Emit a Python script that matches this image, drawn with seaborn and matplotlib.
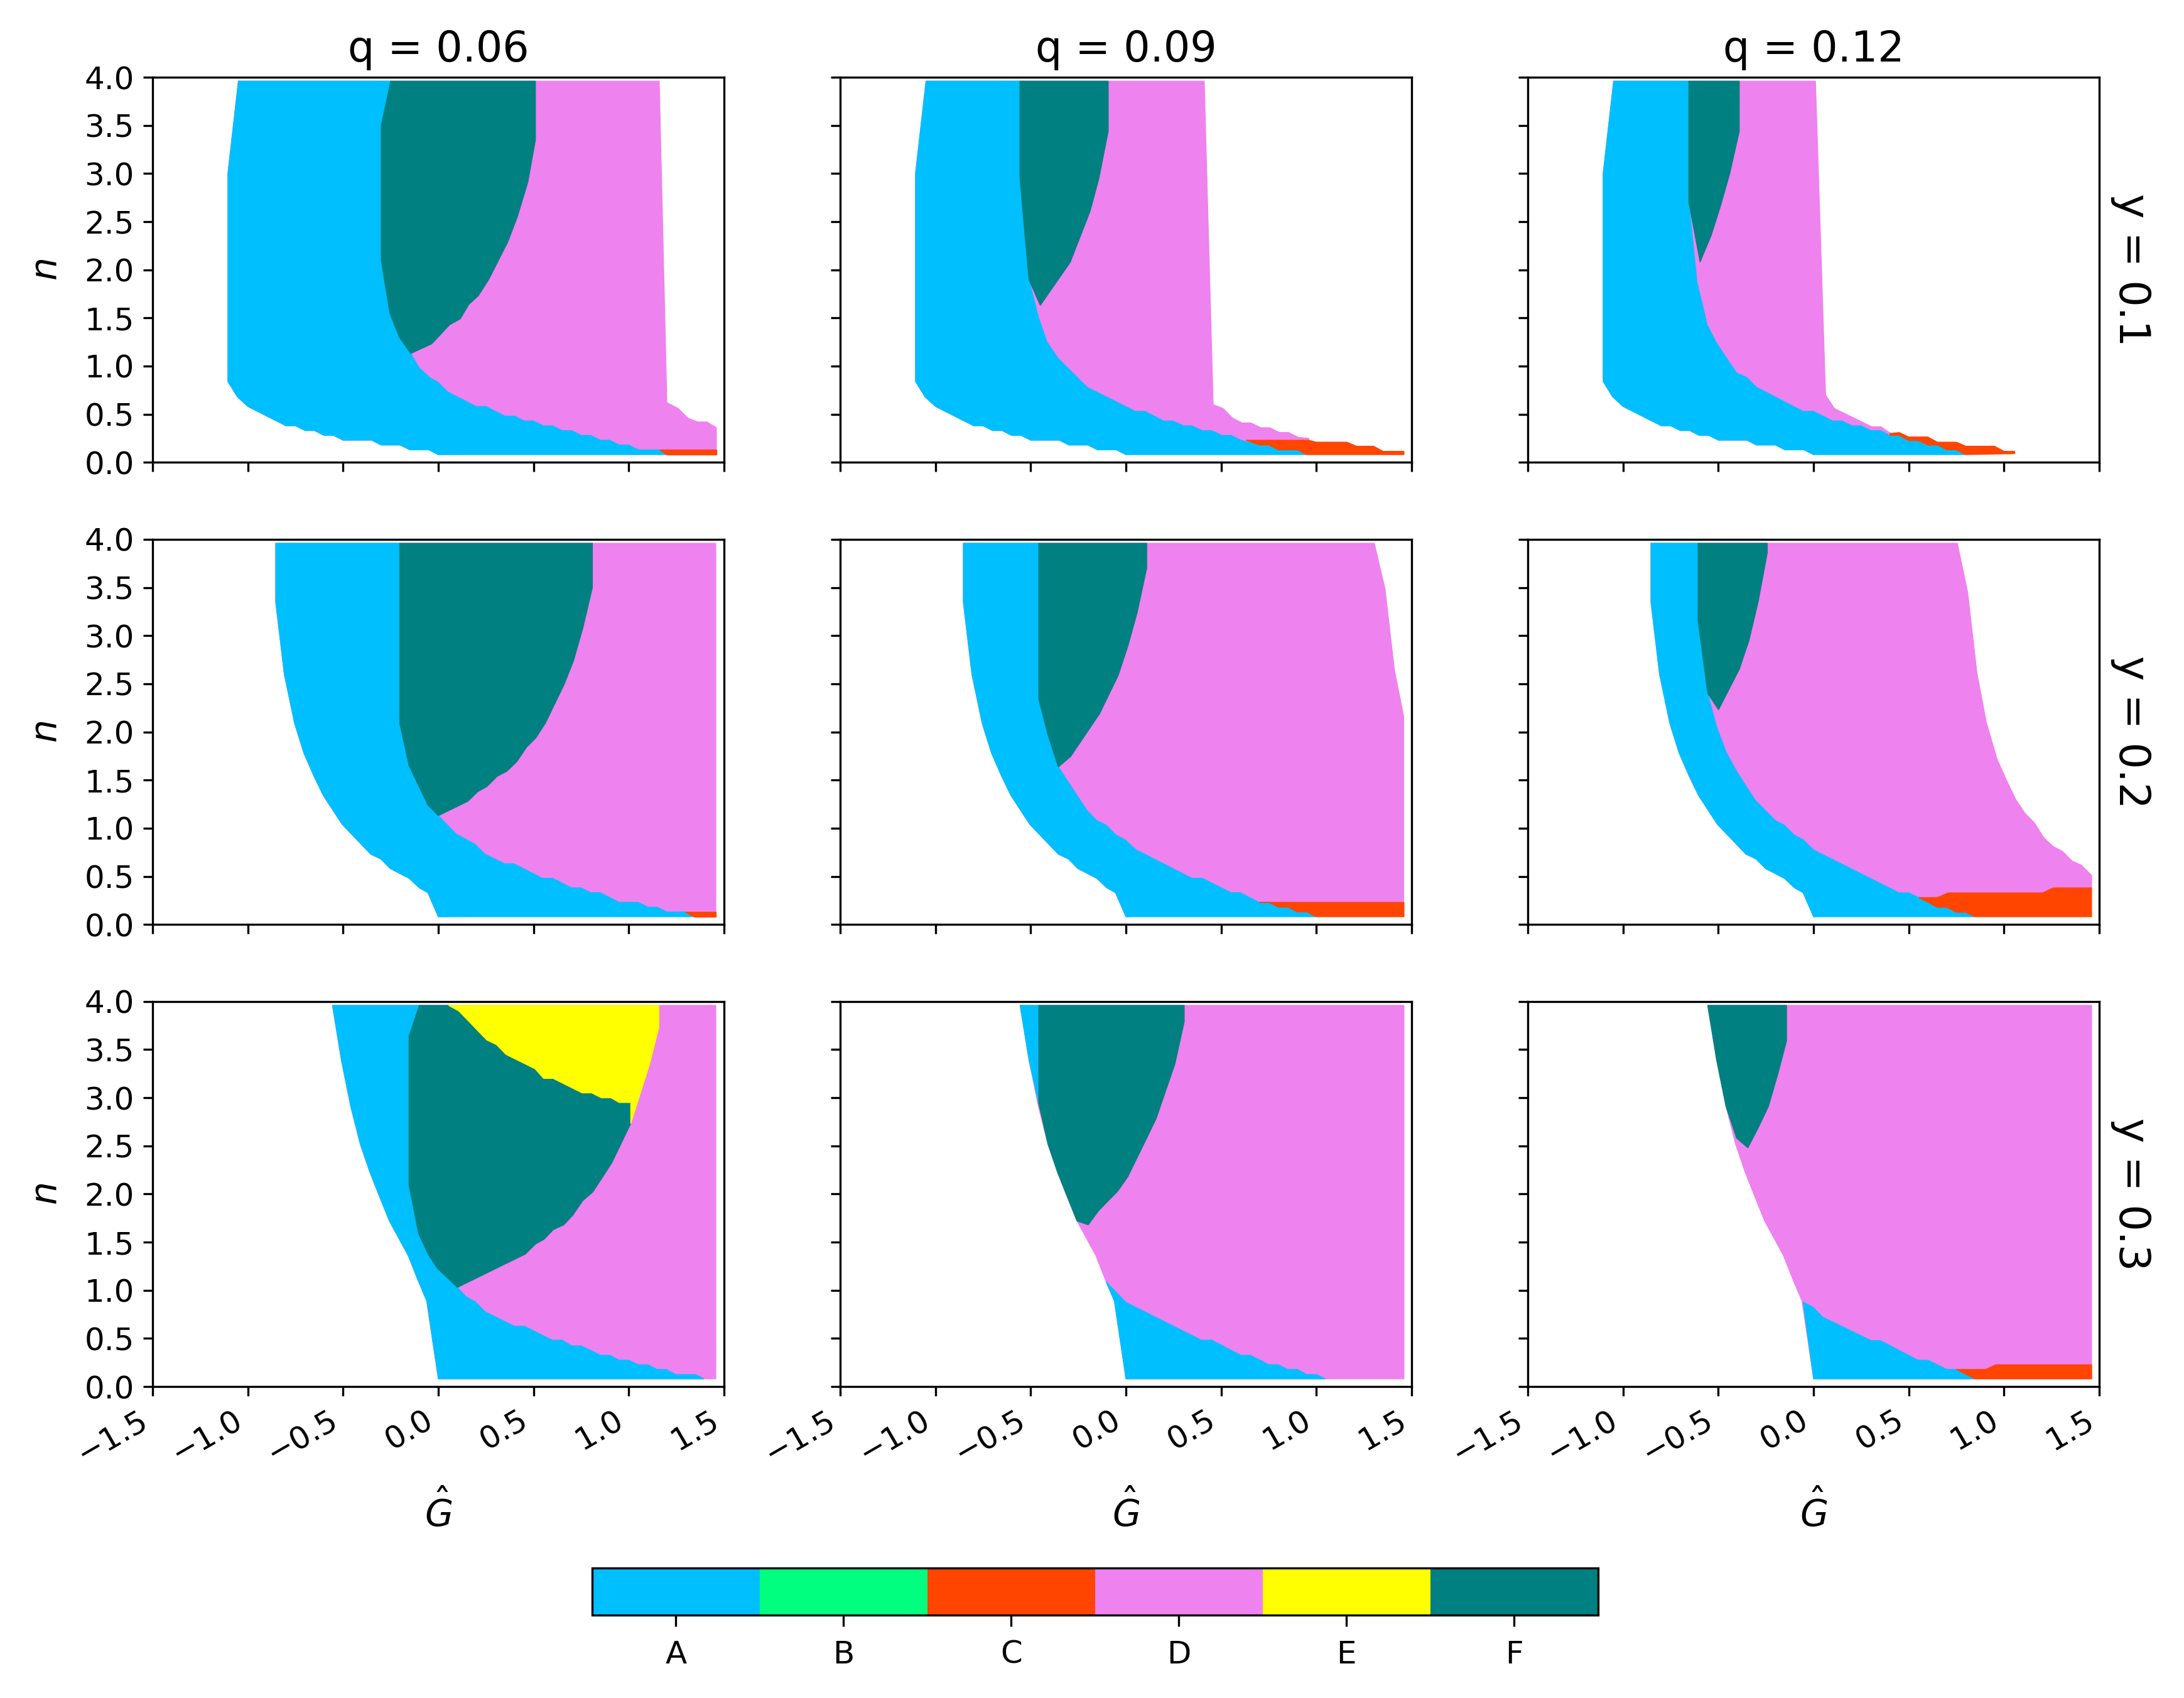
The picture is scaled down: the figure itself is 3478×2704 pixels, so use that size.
import numpy as np
import pandas as pd
import matplotlib
matplotlib.use('Agg')
import matplotlib.pyplot as plt
from matplotlib.colors import ListedColormap, BoundaryNorm
from matplotlib.cm import ScalarMappable
import seaborn as sns

# Regions and their colours (colorbar order)
regions = ['A', 'B', 'C', 'D', 'E', 'F']
region_colors = ['#00bfff', '#00ff7f', '#ff4500', '#ee82ee', '#ffff00', '#008080']
q_values = ['0.06', '0.09', '0.12']
y_values = ['0.1', '0.2', '0.3']

# Boundaries, as (G_hat, n) points.
# Left edge of the coloured area, one per row (top -> bottom)
edge_y1 = [(-1.05, 3.96), (-1.105, 3.0), (-1.105, 0.84), (-1.055, 0.68), (-1.0, 0.58),
           (-0.80, 0.38), (-0.75, 0.38), (-0.70, 0.33), (-0.65, 0.33), (-0.60, 0.28),
           (-0.55, 0.28), (-0.50, 0.23), (-0.35, 0.23), (-0.30, 0.18), (-0.20, 0.18),
           (-0.15, 0.13), (-0.05, 0.13), (0.0, 0.08)]
edge_y2 = [(-0.854, 3.96), (-0.854, 3.35), (-0.809, 2.60), (-0.755, 2.09), (-0.706, 1.78),
           (-0.653, 1.54), (-0.604, 1.34), (-0.505, 1.04), (-0.355, 0.73), (-0.302, 0.68),
           (-0.252, 0.58), (-0.154, 0.48), (-0.10, 0.38), (-0.055, 0.33), (0.0, 0.08)]
edge_y3 = [(-0.556, 3.96), (-0.509, 3.39), (-0.46, 2.91), (-0.41, 2.52), (-0.36, 2.23),
           (-0.31, 1.98), (-0.257, 1.72), (-0.158, 1.36), (-0.108, 1.11), (-0.061, 0.89),
           (0.0, 0.08)]

# y = 0.1, q = 0.06
y1q06_af = [(-0.25, 3.96), (-0.30, 3.50), (-0.30, 2.10), (-0.255, 1.55), (-0.205, 1.30), (-0.145, 1.13)]
y1q06_fd = [(0.51, 3.96), (0.51, 3.35), (0.47, 2.91), (0.415, 2.55), (0.365, 2.29), (0.265, 1.90),
            (0.21, 1.73), (0.16, 1.64), (0.115, 1.49), (0.06, 1.43), (-0.035, 1.23), (-0.145, 1.13)]
y1q06_ad = [(-0.145, 1.13), (-0.10, 0.98), (-0.045, 0.88), (0.0, 0.83), (0.05, 0.73), (0.20, 0.58),
            (0.25, 0.58), (0.35, 0.48), (0.40, 0.48), (0.45, 0.43), (0.50, 0.43), (0.55, 0.38),
            (0.60, 0.38), (0.65, 0.33), (0.70, 0.33), (0.75, 0.28), (0.80, 0.28), (0.85, 0.23),
            (0.90, 0.23), (0.95, 0.18), (1.00, 0.18), (1.05, 0.13), (1.16, 0.13), (1.20, 0.08)]
y1q06_dr = [(1.16, 3.96), (1.20, 0.62), (1.26, 0.56), (1.31, 0.46), (1.36, 0.42), (1.41, 0.42),
            (1.46, 0.36), (1.46, 0.13)]
y1q06_c = [(1.16, 0.13), (1.46, 0.13), (1.46, 0.08), (1.20, 0.08)]

# y = 0.1, q = 0.09
y1q09_af = [(-0.557, 3.96), (-0.557, 2.96), (-0.51, 1.90)]
y1q09_fd = [(-0.093, 3.96), (-0.093, 3.44), (-0.142, 2.95), (-0.188, 2.61), (-0.292, 2.08), (-0.45, 1.63)]
y1q09_ad = [(-0.51, 1.90), (-0.46, 1.51), (-0.415, 1.25), (-0.356, 1.08), (-0.204, 0.78), (0.05, 0.53),
            (0.10, 0.53), (0.198, 0.43), (0.247, 0.43), (0.302, 0.38), (0.346, 0.38), (0.40, 0.33),
            (0.45, 0.33), (0.504, 0.28), (0.553, 0.28), (0.603, 0.23), (0.70, 0.18), (0.75, 0.18),
            (0.80, 0.13), (0.90, 0.13), (0.95, 0.08)]
y1q09_dr = [(0.411, 3.96), (0.458, 0.60), (0.51, 0.56), (0.56, 0.46), (0.609, 0.41), (0.656, 0.41),
            (0.708, 0.36), (0.755, 0.36), (0.806, 0.31), (0.854, 0.31), (0.905, 0.26), (0.96, 0.25),
            (0.96, 0.23)]
y1q09_c = [(0.63, 0.23), (0.96, 0.23), (1.00, 0.21), (1.16, 0.21), (1.21, 0.168), (1.30, 0.168),
           (1.35, 0.115), (1.46, 0.115), (1.46, 0.08), (0.95, 0.08), (0.90, 0.13), (0.80, 0.13),
           (0.75, 0.18), (0.70, 0.18)]

# y = 0.1, q = 0.12
y1q12_af = [(-0.655, 3.96), (-0.655, 2.70)]
y1q12_fd = [(-0.39, 3.96), (-0.39, 3.44), (-0.44, 3.0), (-0.489, 2.66), (-0.537, 2.36), (-0.596, 2.08)]
y1q12_ad = [(-0.655, 2.70), (-0.612, 1.87), (-0.559, 1.43), (-0.51, 1.24), (-0.405, 0.93), (-0.35, 0.88),
            (-0.30, 0.78), (-0.055, 0.53), (0.0, 0.53), (0.10, 0.43), (0.15, 0.43), (0.20, 0.38),
            (0.25, 0.38), (0.30, 0.33), (0.35, 0.33), (0.40, 0.28), (0.45, 0.28), (0.50, 0.225),
            (0.55, 0.225), (0.60, 0.18), (0.65, 0.18), (0.70, 0.13), (0.75, 0.13), (0.80, 0.08)]
y1q12_dr = [(0.01, 3.96), (0.063, 0.70), (0.109, 0.56), (0.306, 0.37), (0.354, 0.37), (0.405, 0.30)]
y1q12_c = [(0.40, 0.30), (0.45, 0.31), (0.50, 0.264), (0.60, 0.264), (0.65, 0.21), (0.75, 0.21),
           (0.80, 0.168), (0.95, 0.168), (1.00, 0.115), (1.056, 0.115), (1.056, 0.09), (0.80, 0.08),
           (0.75, 0.13), (0.70, 0.13), (0.65, 0.18), (0.60, 0.18), (0.55, 0.225), (0.50, 0.225),
           (0.45, 0.28), (0.40, 0.28)]

# y = 0.2, q = 0.06
y2q06_af = [(-0.203, 3.96), (-0.203, 2.09), (-0.154, 1.65), (-0.055, 1.24), (0.0, 1.13)]
y2q06_fd = [(0.809, 3.96), (0.809, 3.50), (0.759, 3.08), (0.71, 2.74), (0.66, 2.49), (0.562, 2.09),
            (0.513, 1.94), (0.463, 1.84), (0.412, 1.69), (0.359, 1.59), (0.31, 1.54), (0.254, 1.43),
            (0.207, 1.38), (0.156, 1.28), (0.0, 1.13)]
y2q06_ad = [(0.0, 1.13), (0.093, 0.94), (0.191, 0.835), (0.245, 0.73), (0.349, 0.63), (0.398, 0.63),
            (0.546, 0.48), (0.60, 0.48), (0.70, 0.38), (0.75, 0.38), (0.80, 0.33), (0.85, 0.33),
            (0.95, 0.23), (1.05, 0.23), (1.10, 0.18), (1.15, 0.18), (1.20, 0.13), (1.30, 0.13),
            (1.345, 0.08)]
y2q06_dr = [(1.457, 3.96), (1.457, 0.13)]
y2q06_c = [(1.296, 0.13), (1.457, 0.13), (1.457, 0.08), (1.345, 0.08)]

# y = 0.2, q = 0.09
y2q09_af = [(-0.458, 3.96), (-0.458, 2.34), (-0.41, 1.97), (-0.356, 1.64)]
y2q09_fd = [(0.109, 3.96), (0.109, 3.70), (0.059, 3.24), (0.01, 2.89), (-0.04, 2.59), (-0.138, 2.19),
            (-0.29, 1.745), (-0.352, 1.64)]
y2q09_ad = [(-0.356, 1.64), (-0.207, 1.19), (-0.154, 1.08), (-0.103, 1.03), (-0.053, 0.93),
            (-0.004, 0.88), (0.049, 0.78), (0.346, 0.48), (0.40, 0.48), (0.553, 0.33), (0.60, 0.33),
            (0.70, 0.23), (0.75, 0.23), (0.80, 0.18), (0.85, 0.18), (0.90, 0.13), (0.95, 0.13),
            (1.0, 0.08)]
y2q09_dr = [(1.304, 3.96), (1.36, 3.49), (1.41, 2.64), (1.458, 2.165), (1.458, 0.23)]
y2q09_c = [(0.70, 0.23), (1.46, 0.23), (1.46, 0.08), (1.0, 0.08), (0.95, 0.13), (0.90, 0.13),
           (0.85, 0.18), (0.80, 0.18), (0.75, 0.23)]

# y = 0.2, q = 0.12
y2q12_af = [(-0.607, 3.96), (-0.607, 3.16), (-0.556, 2.40)]
y2q12_fd = [(-0.243, 3.96), (-0.243, 3.86), (-0.29, 3.36), (-0.339, 2.95), (-0.39, 2.65), (-0.499, 2.23)]
y2q12_ad = [(-0.556, 2.40), (-0.509, 2.05), (-0.458, 1.785), (-0.404, 1.59), (-0.306, 1.29),
            (-0.201, 1.08), (-0.152, 1.03), (-0.103, 0.93), (-0.055, 0.88), (0.0, 0.774),
            (0.45, 0.328), (0.499, 0.328), (0.552, 0.28), (0.651, 0.178), (0.70, 0.178),
            (0.75, 0.126), (0.80, 0.126), (0.848, 0.08)]
y2q12_dr = [(0.755, 3.96), (0.809, 3.45), (0.858, 2.61), (0.907, 2.10), (0.963, 1.72), (1.01, 1.51),
            (1.061, 1.30), (1.11, 1.155), (1.16, 1.055), (1.207, 0.905), (1.258, 0.81),
            (1.307, 0.76), (1.357, 0.66), (1.406, 0.617), (1.46, 0.51), (1.46, 0.38)]
y2q12_c = [(0.552, 0.28), (0.651, 0.28), (0.706, 0.328), (1.203, 0.328), (1.258, 0.38), (1.46, 0.38),
           (1.46, 0.08), (0.848, 0.08), (0.80, 0.126), (0.75, 0.126), (0.70, 0.178), (0.651, 0.178)]

# y = 0.3, q = 0.06
y3q06_af = [(-0.10, 3.96), (-0.154, 3.64), (-0.154, 2.09), (-0.104, 1.59), (-0.055, 1.38),
            (-0.006, 1.23), (0.10, 1.03)]
y3q06_fe = [(0.053, 3.96), (0.108, 3.90), (0.254, 3.60), (0.306, 3.55), (0.355, 3.45), (0.508, 3.30),
            (0.553, 3.20), (0.603, 3.20), (0.755, 3.05), (0.805, 3.05), (0.855, 3.0), (0.905, 3.0),
            (0.95, 2.95), (1.01, 2.95), (1.01, 2.73)]
y3q06_fd = [(1.01, 2.73), (0.91, 2.32), (0.811, 2.02), (0.758, 1.93), (0.706, 1.78), (0.659, 1.68),
            (0.604, 1.63), (0.555, 1.53), (0.51, 1.48), (0.457, 1.376), (0.10, 1.03)]
y3q06_ed = [(1.158, 3.96), (1.158, 3.73), (1.108, 3.34), (1.01, 2.73)]
y3q06_ad = [(0.10, 1.03), (0.148, 0.93), (0.195, 0.88), (0.247, 0.775), (0.40, 0.627), (0.452, 0.627),
            (0.597, 0.483), (0.65, 0.483), (0.70, 0.423), (0.75, 0.423), (0.852, 0.326), (0.90, 0.326),
            (0.95, 0.274), (1.0, 0.274), (1.05, 0.227), (1.10, 0.227), (1.148, 0.178), (1.197, 0.178),
            (1.247, 0.125), (1.35, 0.125), (1.395, 0.08)]
y3q06_dr = [(1.457, 3.96), (1.457, 0.08)]

# y = 0.3, q = 0.09
y3q09_top = [(-0.458, 3.96), (-0.458, 2.94)]
y3q09_fl = [(-0.458, 3.96), (-0.458, 2.94), (-0.41, 2.52), (-0.36, 2.23), (-0.31, 1.98), (-0.257, 1.72)]
y3q09_fd = [(0.306, 3.96), (0.306, 3.79), (0.257, 3.35), (0.158, 2.78), (0.01, 2.18), (-0.043, 2.03),
            (-0.142, 1.83), (-0.198, 1.68), (-0.257, 1.72)]
y3q09_ad = [(-0.105, 1.09), (0.0, 0.875), (0.395, 0.483), (0.45, 0.483), (0.603, 0.326), (0.652, 0.326),
            (0.751, 0.227), (0.80, 0.227), (0.85, 0.178), (0.90, 0.178), (0.949, 0.125), (1.002, 0.125),
            (1.047, 0.08)]
y3q09_dr = [(1.46, 3.96), (1.46, 0.08)]

# y = 0.3, q = 0.12
y3q12_fl = [(-0.556, 3.96), (-0.509, 3.39), (-0.46, 2.91), (-0.404, 2.58)]
y3q12_fd = [(-0.142, 3.96), (-0.142, 3.59), (-0.187, 3.25), (-0.237, 2.91), (-0.29, 2.69),
            (-0.345, 2.48), (-0.404, 2.58)]
y3q12_ad = [(-0.055, 0.88), (0.0, 0.82), (0.049, 0.72), (0.302, 0.478), (0.351, 0.478), (0.548, 0.274),
            (0.60, 0.274), (0.70, 0.178), (0.75, 0.178), (0.848, 0.08)]
y3q12_dr = [(1.46, 3.96), (1.46, 0.08)]
y3q12_c = [(0.75, 0.178), (0.903, 0.178), (0.957, 0.227), (1.46, 0.227), (1.46, 0.08), (0.848, 0.08)]


def rev(pts):
    return list(pts)[::-1]


def a_poly(edge, right):
    # part of the row's left edge between the ends of `right`, closed by `right`
    hi, lo = right[0][1], right[-1][1]
    return [p for p in edge if lo <= p[1] <= hi] + rev(right)


# Pieces in drawing order (later pieces are painted on top)
panels = {
    ('0.1', '0.06'): [('D', edge_y1 + rev(y1q06_dr)), ('A', a_poly(edge_y1, y1q06_af + y1q06_ad)),
                      ('F', y1q06_af + rev(y1q06_fd)), ('C', y1q06_c)],
    ('0.1', '0.09'): [('D', edge_y1 + rev(y1q09_dr)), ('A', a_poly(edge_y1, y1q09_af + y1q09_ad)),
                      ('F', y1q09_af + rev(y1q09_fd)), ('C', y1q09_c)],
    ('0.1', '0.12'): [('D', edge_y1 + rev(y1q12_dr)), ('A', a_poly(edge_y1, y1q12_af + y1q12_ad)),
                      ('F', y1q12_af + rev(y1q12_fd)), ('C', y1q12_c)],
    ('0.2', '0.06'): [('D', edge_y2 + rev(y2q06_dr)), ('A', a_poly(edge_y2, y2q06_af + y2q06_ad)),
                      ('F', y2q06_af + rev(y2q06_fd)), ('C', y2q06_c)],
    ('0.2', '0.09'): [('D', edge_y2 + rev(y2q09_dr)), ('A', a_poly(edge_y2, y2q09_af + y2q09_ad)),
                      ('F', y2q09_af + rev(y2q09_fd)), ('C', y2q09_c)],
    ('0.2', '0.12'): [('D', edge_y2 + rev(y2q12_dr)), ('A', a_poly(edge_y2, y2q12_af + y2q12_ad)),
                      ('F', y2q12_af + rev(y2q12_fd)), ('C', y2q12_c)],
    ('0.3', '0.06'): [('D', edge_y3 + rev(y3q06_dr)), ('A', a_poly(edge_y3, y3q06_af + y3q06_ad)),
                      ('F', y3q06_af + rev(y3q06_fe + y3q06_fd)), ('E', y3q06_fe + rev(y3q06_ed))],
    ('0.3', '0.09'): [('D', edge_y3 + rev(y3q09_dr)), ('A', a_poly(edge_y3, y3q09_top)),
                      ('A', a_poly(edge_y3, y3q09_ad)), ('F', y3q09_fl + rev(y3q09_fd))],
    ('0.3', '0.12'): [('D', edge_y3 + rev(y3q12_dr)), ('A', a_poly(edge_y3, y3q12_ad)),
                      ('F', y3q12_fl + rev(y3q12_fd)), ('C', y3q12_c)],
}

rows = []
for (yv, qv), pieces in panels.items():
    for k, (reg, pts) in enumerate(pieces):
        for g_, n_ in pts:
            rows.append({'y': yv, 'q': qv, 'piece': k, 'region': reg, 'G': g_, 'n': n_})
df = pd.DataFrame(rows)

color_of = dict(zip(regions, region_colors))


def draw_regions(data, **kws):
    ax = plt.gca()
    for _, part in data.groupby('piece', sort=True):
        col = color_of[part['region'].iloc[0]]
        ax.fill(part['G'], part['n'], facecolor=col, edgecolor=col, linewidth=0.3)


g = sns.FacetGrid(df, row='y', col='q', row_order=y_values, col_order=q_values,
                  margin_titles=True, despine=False, height=3, aspect=1.48)
g.map_dataframe(draw_regions)
g.set(xlim=(-1.5, 1.5), ylim=(0, 4),
      xticks=np.arange(-1.5, 1.51, 0.5), yticks=np.arange(0, 4.01, 0.5))
g.set_axis_labels(r'$\hat{G}$', r'$n$', fontsize=14, labelpad=8)
g.set_titles(col_template='q = {col_name}', row_template='y = {row_name}', size=16)

for ax in g.axes.flat:
    ax.tick_params(labelsize=12)
for ax in g.axes[-1]:
    plt.setp(ax.get_xticklabels(), rotation=30, ha='right')

fig = g.figure
fig.set_size_inches(3478 / 300, 2704 / 300)
fig.subplots_adjust(left=0.0699, right=0.9612, top=0.9545, bottom=0.1834,
                    wspace=0.2035, hspace=0.2)

# Discrete colorbar for the regions
cax = fig.add_axes([0.2711, 0.0488, 0.4606, 0.0277])
cmap = ListedColormap(region_colors)
norm = BoundaryNorm(np.arange(len(regions) + 1), len(regions))
cb = fig.colorbar(ScalarMappable(norm=norm, cmap=cmap), cax=cax, orientation='horizontal',
                  ticks=np.arange(len(regions)) + 0.5)
cb.set_ticklabels(regions)
cb.minorticks_off()
cb.ax.tick_params(labelsize=12, length=4.3, pad=5)

fig.savefig('out.png', dpi=300)
